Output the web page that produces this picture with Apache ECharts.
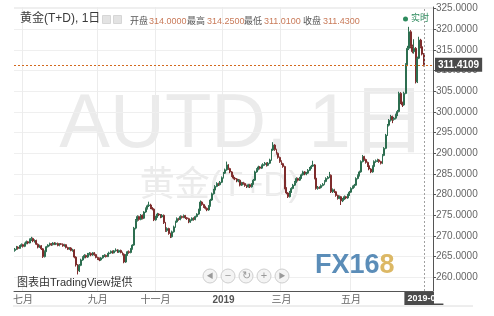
<!DOCTYPE html>
<html><head><meta charset="utf-8">
<script src="https://cdn.jsdelivr.net/npm/echarts@6/dist/echarts.min.js"></script>
<style>html,body{margin:0;padding:0;background:#fff;}#c{width:494px;height:316px;}</style>
</head><body><div id="c"></div>
<script>
// Daily candles, Au(T+D), late Jun 2018 -> early Jul 2019
const opens = [
266.5,266.8,267.3,267.0,267.6,267.9,267.5,268.2,268.6,268.3,
269.1,269.4,268.8,268.9,268.0,267.3,267.6,266.9,265.0,266.3,
267.4,267.8,268.1,267.9,268.3,268.0,268.2,267.7,268.1,268.0,
267.6,267.9,267.2,266.8,267.1,266.5,266.6,264.9,263.0,261.6,
262.9,264.2,264.8,265.3,264.9,265.6,265.8,265.4,265.9,265.5,
264.8,264.5,264.2,264.7,265.2,265.3,265.0,265.7,265.9,266.3,
265.9,266.4,266.6,266.1,266.5,266.0,265.6,263.7,265.4,266.2,
266.0,266.9,267.8,271.9,273.8,274.7,274.0,275.0,274.3,275.8,
276.6,277.3,277.5,276.8,276.5,273.9,274.6,275.3,275.1,274.6,
275.0,273.2,271.3,271.8,270.6,269.8,271.0,272.2,273.4,274.2,
274.0,274.7,274.5,274.9,274.4,274.2,273.4,273.8,274.3,274.0,
274.7,275.3,276.3,278.2,277.6,277.1,276.7,276.3,277.3,278.7,
280.2,281.1,282.0,282.7,282.4,283.0,284.1,285.2,286.0,287.2,
286.3,285.5,284.6,284.0,283.8,283.3,283.5,282.3,282.9,282.7,
282.2,281.9,282.4,281.9,282.6,283.5,285.5,286.1,286.7,286.4,
287.0,287.3,287.6,287.1,287.6,288.4,290.8,292.0,290.9,290.0,
289.0,288.0,287.5,286.8,281.6,280.4,279.5,280.6,281.5,282.3,
283.0,283.9,283.5,284.0,284.8,285.5,285.0,285.2,285.9,286.4,
286.9,287.2,284.0,281.5,281.8,281.7,282.2,282.5,283.2,283.9,
284.2,284.7,280.7,281.2,280.7,279.8,279.1,279.5,278.5,278.9,
279.5,279.2,279.9,280.6,281.5,281.9,282.3,283.9,284.6,285.5,
288.0,289.2,288.5,287.8,287.0,286.2,285.5,286.8,288.0,288.2,
288.4,288.0,287.6,289.5,291.2,294.4,296.8,298.0,298.9,298.2,
298.5,299.3,300.1,304.5,302.2,301.7,304.5,311.4,315.4,319.4,
315.8,314.6,315.4,307.3,313.0,317.4,315.8,314.0];
const closes = [
266.8,267.3,267.0,267.6,267.9,267.5,268.2,268.6,268.3,269.1,
269.4,268.8,268.9,268.0,267.3,267.6,266.9,265.0,266.3,267.4,
267.8,268.1,267.9,268.3,268.0,268.2,267.7,268.1,268.0,267.6,
267.9,267.2,266.8,267.1,266.5,266.6,264.9,263.0,261.6,262.9,
264.2,264.8,265.3,264.9,265.6,265.8,265.4,265.9,265.5,264.8,
264.5,264.2,264.7,265.2,265.3,265.0,265.7,265.9,266.3,265.9,
266.4,266.6,266.1,266.5,266.0,265.6,263.7,265.4,266.2,266.0,
266.9,267.8,271.9,273.8,274.7,274.0,275.0,274.3,275.8,276.6,
277.3,277.5,276.8,276.5,273.9,274.6,275.3,275.1,274.6,275.0,
273.2,271.3,271.8,270.6,269.8,271.0,272.2,273.4,274.2,274.0,
274.7,274.5,274.9,274.4,274.2,273.4,273.8,274.3,274.0,274.7,
275.3,276.3,278.2,277.6,277.1,276.7,276.3,277.3,278.7,280.2,
281.1,282.0,282.7,282.4,283.0,284.1,285.2,286.0,287.2,286.3,
285.5,284.6,284.0,283.8,283.3,283.5,282.3,282.9,282.7,282.2,
281.9,282.4,281.9,282.6,283.5,285.5,286.1,286.7,286.4,287.0,
287.3,287.6,287.1,287.6,288.4,290.8,292.0,290.9,290.0,289.0,
288.0,287.5,286.8,281.6,280.4,279.5,280.6,281.5,282.3,283.0,
283.9,283.5,284.0,284.8,285.5,285.0,285.2,285.9,286.4,286.9,
287.2,284.0,281.5,281.8,281.7,282.2,282.5,283.2,283.9,284.2,
284.7,280.7,281.2,280.7,279.8,279.1,279.5,278.5,278.9,279.5,
279.2,279.9,280.6,281.5,281.9,282.3,283.9,284.6,285.5,288.0,
289.2,288.5,287.8,287.0,286.2,285.5,286.8,288.0,288.2,288.4,
288.0,287.6,289.5,291.2,294.4,296.8,298.0,298.9,298.2,298.5,
299.3,300.1,304.5,302.2,301.7,304.5,311.4,315.4,319.4,315.8,
314.6,315.4,307.3,313.0,317.4,315.8,314.0,311.43];
const lows = [
266.2,266.6,266.7,266.9,267.4,267.2,267.3,268.0,268.0,268.2,
268.8,268.5,268.4,267.8,267.0,267.1,266.6,264.7,264.8,266.1,
267.2,267.5,267.6,267.7,267.8,267.8,267.5,267.5,267.8,267.4,
267.4,267.0,266.6,266.6,266.3,266.2,264.6,262.6,260.7,261.3,
262.7,264.0,264.6,264.6,264.7,265.3,265.1,265.2,265.2,264.6,
264.2,263.9,264.0,264.5,264.9,264.8,264.9,265.5,265.7,265.7,
265.8,266.2,265.9,265.9,265.8,265.3,263.4,263.5,265.2,265.7,
265.8,266.7,267.6,271.6,273.5,273.7,273.8,274.0,274.1,275.6,
276.4,277.0,276.5,276.2,273.6,273.7,274.4,274.8,274.3,274.4,
272.9,271.0,271.0,270.3,269.5,269.6,270.8,272.0,273.2,273.7,
273.8,274.2,274.3,274.1,273.9,273.1,273.2,273.6,273.7,273.8,
274.5,275.1,276.1,277.3,276.8,276.4,276.0,276.1,277.1,278.5,
280.0,280.9,281.8,282.1,282.2,282.8,283.9,285.0,285.8,286.0,
285.2,284.3,283.7,283.5,283.0,283.0,282.0,282.1,282.4,281.9,
281.6,281.7,281.6,281.7,282.4,283.3,285.3,285.9,286.1,286.2,
286.8,287.0,286.8,286.9,287.4,288.2,290.6,290.6,289.7,288.7,
287.7,287.2,286.5,281.3,280.1,279.2,279.3,280.4,281.3,282.1,
282.8,283.2,283.3,283.8,284.6,284.7,284.7,285.0,285.7,286.2,
286.7,283.7,281.2,281.2,281.4,281.5,282.0,282.3,283.0,283.7,
284.0,280.4,280.4,280.4,279.5,278.8,278.9,277.5,278.2,278.7,
278.9,279.0,279.7,280.4,281.3,281.7,282.1,283.7,284.4,285.3,
287.8,288.2,287.5,286.7,285.9,285.2,285.3,286.6,287.7,287.9,
287.7,287.3,287.4,289.3,291.0,294.2,296.5,297.7,297.3,297.9,
298.2,299.0,299.9,301.9,301.2,301.5,304.3,311.1,315.0,315.4,
314.2,314.1,306.9,307.0,312.8,315.4,313.7,311.01];
const highs = [
267.1,267.6,267.5,267.8,268.2,268.1,268.4,268.9,268.8,269.4,
269.8,269.6,269.2,269.1,268.2,267.9,267.8,267.1,266.5,267.6,
268.0,268.4,268.3,268.5,268.5,268.4,268.4,268.3,268.3,268.2,
268.1,268.0,267.4,267.3,267.3,266.9,266.8,265.1,263.2,263.2,
264.5,265.1,265.6,265.5,265.9,266.1,266.0,266.1,266.1,265.7,
265.0,264.8,264.9,265.4,265.6,265.5,265.9,266.2,266.5,266.5,
266.6,267.0,266.8,266.7,266.7,266.2,265.8,265.6,266.4,266.5,
267.1,268.0,272.2,274.1,275.0,274.9,275.3,275.2,276.0,276.9,
277.6,278.3,277.8,277.0,276.7,274.9,275.6,275.5,275.3,275.3,
275.2,273.4,272.1,272.0,270.8,271.3,272.5,273.7,274.5,274.4,
275.0,274.9,275.2,275.1,274.6,274.4,274.0,274.5,274.5,274.9,
275.5,276.6,278.6,278.4,277.8,277.3,276.9,277.5,279.0,280.5,
281.4,282.3,283.0,282.9,283.3,284.4,285.5,286.3,288.0,287.4,
286.5,285.7,284.8,284.3,284.0,283.8,283.7,283.1,283.1,282.9,
282.4,282.6,282.6,282.8,283.8,285.8,286.4,287.0,286.9,287.3,
287.6,287.9,287.8,287.9,288.7,291.1,292.7,292.2,291.1,290.2,
289.2,288.3,287.7,287.0,281.8,280.6,280.9,281.8,282.6,283.3,
284.2,284.1,284.3,285.1,285.8,285.7,285.5,286.2,286.7,287.2,
288.2,287.4,284.2,282.1,282.0,282.5,282.8,283.5,284.2,284.5,
285.5,284.9,281.5,281.4,280.9,280.0,279.8,279.7,279.2,279.8,
279.7,280.2,280.9,281.8,282.2,282.6,284.2,284.9,285.8,288.3,
289.6,289.4,288.7,288.0,287.2,286.4,287.1,288.3,288.5,288.7,
288.6,288.2,289.8,291.5,294.7,297.1,298.3,299.3,299.1,298.8,
299.6,300.5,304.9,304.8,302.5,304.9,311.8,316.0,320.6,319.8,
316.3,317.6,315.7,313.4,318.2,317.7,316.1,314.25];
const emptySlots = 5;                       // blank days right of last candle
const monthTickIndex  = [5, 50, 85, 126, 161, 203];
const monthTickLabels = ['七月', '九月', '十一月', '2019', '三月', '五月'];
const lastPrice = 311.4109;
const lastDateLabel = '2019-07';
const headerTitle = '黄金(T+D), 1日';
const headerNames  = ['开盘', '最高', '最低', '收盘'];
const headerValues = ['314.0000', '314.2500', '311.0100', '311.4300'];

const FONT = '"Liberation Sans","Noto Sans CJK SC",sans-serif';
const N = opens.length;
const categories = Array.from({length: N + emptySlots}, (_, i) => String(i));
const candleData = opens.map((o, i) => [o, closes[i], lows[i], highs[i]]);
const tickMap = new Map(monthTickIndex.map((d, k) => [d, monthTickLabels[k]]));

const chart = echarts.init(document.getElementById('c'), null, {renderer: 'canvas', width: 494, height: 316});

const hdrX = [130, 149, 187, 207, 244, 264, 303, 323];
const headerEls = [{type: 'text', left: 20, top: 13, z: 50,
  style: {text: headerTitle, font: '12px ' + FONT, fill: '#3a3a3a'}}];
headerNames.forEach((n, k) => {
  headerEls.push({type: 'text', left: hdrX[2*k], top: 17, z: 50, style: {text: n, font: '9px ' + FONT, fill: '#555'}});
  headerEls.push({type: 'text', left: hdrX[2*k+1], top: 17, z: 50, style: {text: headerValues[k], font: '9px ' + FONT, fill: '#c97b5a'}});
});
headerEls.push({type: 'rect', left: 102, top: 15, z: 50, shape: {width: 8, height: 8}, style: {fill: '#e3e3e3', stroke: '#d6d6d6'}});
headerEls.push({type: 'rect', left: 113, top: 15, z: 50, shape: {width: 8, height: 8}, style: {fill: '#e3e3e3', stroke: '#d6d6d6'}});
headerEls.push({type: 'circle', z: 50, shape: {cx: 405.5, cy: 19, r: 2.5}, style: {fill: '#2e8b5e'}});
headerEls.push({type: 'text', left: 411, top: 14, z: 50, style: {text: '实时', font: '9px ' + FONT, fill: '#2e8b5e'}});

const navGlyphs = ['◀', '−', '↻', '+', '▶'];
const navEls = [];
navGlyphs.forEach((g, k) => {
  const cx = 210 + k * 18;
  navEls.push({type: 'circle', z: 50, shape: {cx: cx, cy: 276, r: 7}, style: {fill: '#f4f4f4', stroke: '#cfcfcf', lineWidth: 1}});
  navEls.push({type: 'text', z: 51, x: cx, y: 276, style: {text: g, font: (k === 0 || k === 4 ? '7px ' : '11px ') + FONT, fill: '#9a9a9a', textAlign: 'center', textVerticalAlign: 'middle'}});
});

const option = {
  animation: false,
  backgroundColor: '#ffffff',
  grid: {left: 14, right: 61, top: 7, bottom: 25},
  tooltip: {show: false},
  axisPointer: {show: false},
  xAxis: {
    type: 'category', data: categories, boundaryGap: true,
    axisLine: {lineStyle: {color: '#555', width: 1}},
    axisTick: {show: false},
    axisLabel: {
      interval: (i) => tickMap.has(i),
      formatter: (v, i) => { const t = tickMap.get(i); return t === '2019' ? '{b|2019}' : t; },
      color: '#666', fontSize: 10, margin: 4, fontFamily: FONT,
      rich: {b: {fontWeight: 'bold', color: '#555', fontSize: 10, fontFamily: FONT}}
    },
    splitLine: {show: true, interval: (i) => tickMap.has(i), lineStyle: {color: '#ececec', width: 1}}
  },
  yAxis: {
    type: 'value', position: 'right', scale: true,
    min: 256.69, max: 325.4, minInterval: 5, maxInterval: 5, splitNumber: 14,
    axisLine: {show: true, lineStyle: {color: '#555'}},
    axisTick: {show: true, length: 3, lineStyle: {color: '#555'}},
    axisLabel: {showMinLabel: false, showMaxLabel: false, formatter: (v) => v.toFixed(4),
      color: '#666', fontSize: 10, margin: 3, fontFamily: FONT},
    splitLine: {show: true, lineStyle: {color: '#efefef', width: 1}}
  },
  graphic: [
    {type: 'text', z: 0, x: 243, y: 126, silent: true,
     style: {text: 'AUTD, 1日', font: '76px ' + FONT, fill: '#ebebeb', textAlign: 'center', textVerticalAlign: 'middle'}},
    {type: 'text', z: 0, x: 220, y: 186, silent: true,
     style: {text: '黄金(T+D)', font: '35px ' + FONT, fill: '#ebebeb', textAlign: 'center', textVerticalAlign: 'middle'}},
    {type: 'line', z: 0, shape: {x1: 13, y1: 306, x2: 473, y2: 306}, style: {stroke: '#dcdcdc', lineWidth: 1}},
    {type: 'rect', z: 200, zlevel: 1, shape: {x: 434, y: 291.5, width: 40, height: 12}, style: {fill: '#ffffff'}},
    {type: 'text', left: 17, top: 277, z: 50, style: {text: '图表由TradingView提供', font: '11px ' + FONT, fill: '#333'}},
    {type: 'text', left: 315, top: 252, z: 50,
     style: {rich: {a: {font: 'bold 27px ' + FONT, fill: '#5b8db8'}, b: {font: 'bold 27px ' + FONT, fill: '#dcb865'}},
             text: '{a|FX16}{b|8}'}}
  ].concat(headerEls, navEls),
  series: [{
    type: 'candlestick', data: candleData, barWidth: '85%',
    itemStyle: {color: '#3f8f6a', color0: '#a84646', borderColor: '#2d6e50', borderColor0: '#7e2c2c', borderWidth: 1}
  }, {
    type: 'line', data: [], color: '#d2691e', silent: true,
    markLine: {
      silent: true, symbol: ['none', 'none'], animation: false, precision: 4,
      emphasis: {disabled: true},
      data: [
        {yAxis: lastPrice,
         lineStyle: {color: '#d2691e', type: [2, 2], width: 1, opacity: 1},
         label: {show: true, position: 'end', distance: 2, formatter: () => lastPrice.toFixed(4),
           backgroundColor: '#4a4a4a', color: '#fff', fontSize: 10, fontWeight: 'bold', padding: [2, 3], fontFamily: FONT}},
        {xAxis: categories[N - 1],
         lineStyle: {color: '#a0a0a0', type: [2, 2], width: 1, opacity: 1},
         label: {show: true, position: 'start', distance: 1, formatter: () => lastDateLabel,
           backgroundColor: '#4a4a4a', color: '#fff', fontSize: 9, fontWeight: 'bold', padding: [2, 3], fontFamily: FONT}}
      ]
    }
  }]
};
chart.setOption(option);
</script></body></html>
